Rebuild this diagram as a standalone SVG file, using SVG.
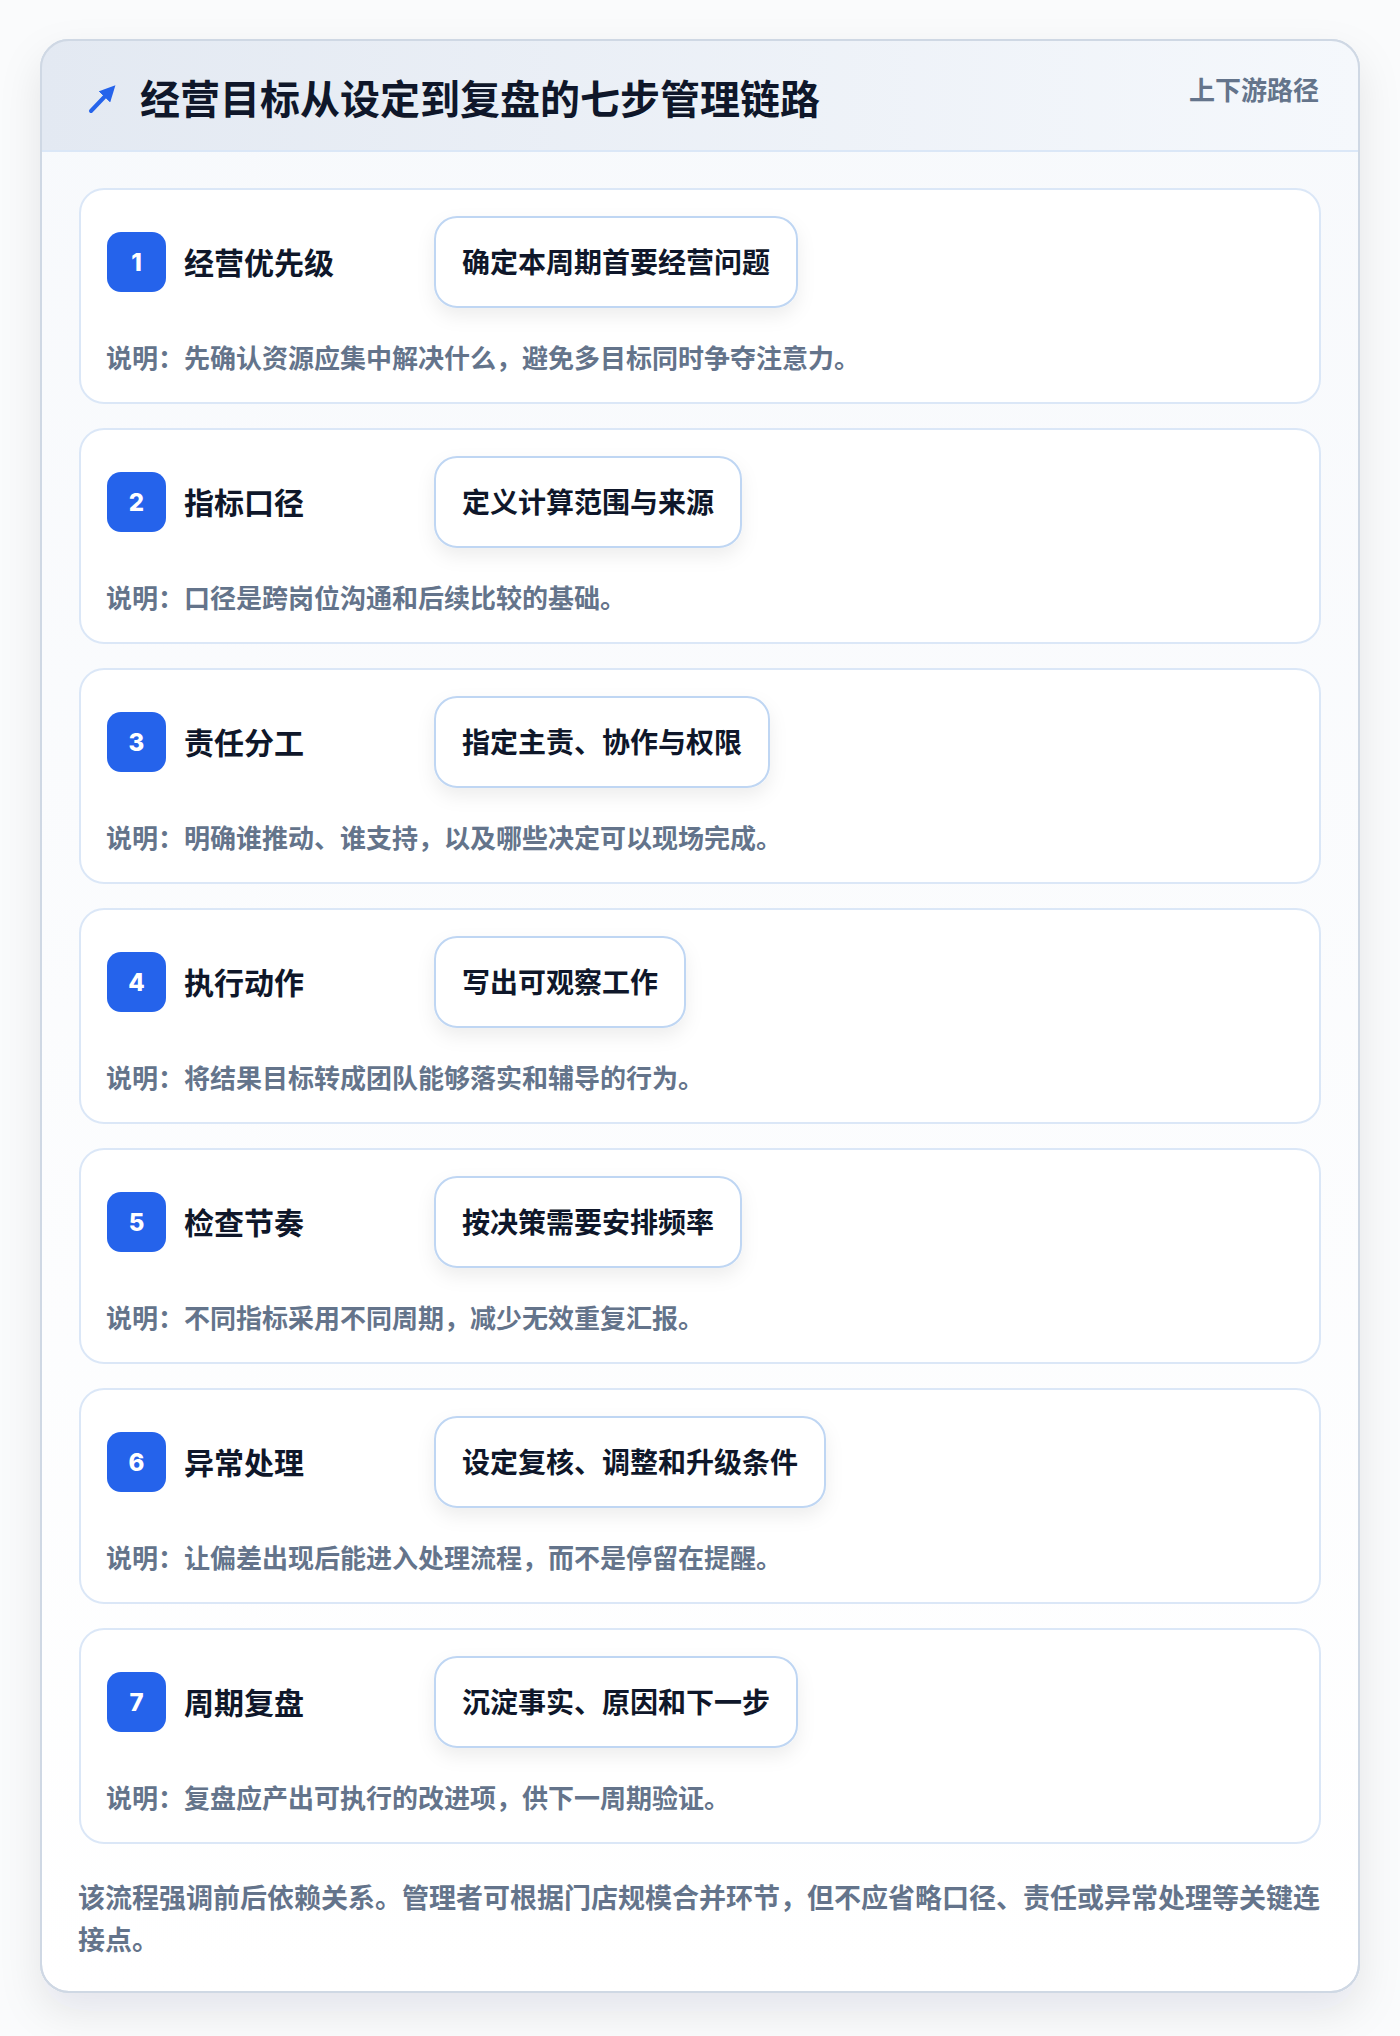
<svg xmlns="http://www.w3.org/2000/svg" width="1400" height="2036" viewBox="0 0 1400 2036">
<defs>
<linearGradient id="hdr" x1="0" y1="0" x2="1" y2="0"><stop offset="0" stop-color="#e3e9f2"/><stop offset="1" stop-color="#f5f8fc"/></linearGradient>
<linearGradient id="body" x1="0" y1="0" x2="0" y2="1"><stop offset="0" stop-color="#f7f9fc"/><stop offset="1" stop-color="#ffffff"/></linearGradient>
<filter id="outerShadow" x="-10%" y="-10%" width="120%" height="120%"><feDropShadow dx="0" dy="18" stdDeviation="20" flood-color="#0f172a" flood-opacity="0.09"/></filter>
<filter id="pillShadow" x="-20%" y="-30%" width="140%" height="180%"><feDropShadow dx="0" dy="8" stdDeviation="9" flood-color="#0f172a" flood-opacity="0.07"/></filter>
<clipPath id="cardClip"><rect x="41" y="40" width="1318" height="1952" rx="28"/></clipPath>
<marker id="ah" viewBox="0 0 10 10" refX="6" refY="5" markerWidth="4" markerHeight="4" orient="auto"><path d="M0,0 L10,5 L0,10 z" fill="#2563eb"/></marker>
</defs>
<style>
text{font-family:"Noto Sans CJK SC","Noto Sans",sans-serif;font-weight:700;dominant-baseline:central}
.title{font-size:40px;fill:#0f172a}
.tag{font-size:26px;fill:#64748b;text-anchor:end}
.card{fill:#ffffff;stroke:#dbe7f7;stroke-width:2}
.badge{fill:#2563eb}
.num{font-family:Inter,"Liberation Sans",sans-serif;font-size:24px;font-weight:800;fill:#ffffff;text-anchor:middle}
.label{font-size:30px;fill:#0f172a}
.pill{fill:#ffffff;stroke:#bfd6f3;stroke-width:2}
.pilltext{font-size:28px;fill:#0f172a}
.desc{font-size:26px;fill:#64748b}
.foot{font-size:27px;fill:#64748b}
</style>
<rect width="1400" height="2036" fill="#fafbfc"/>
<g id="frame">
<rect x="41" y="40" width="1318" height="1952" rx="28" fill="url(#body)" stroke="#cfd8e4" stroke-width="2" filter="url(#outerShadow)"/>
<g clip-path="url(#cardClip)">
<rect x="41" y="40" width="1318" height="111" fill="url(#hdr)"/>
<line x1="41" y1="151" x2="1359" y2="151" stroke="#dbe7f7" stroke-width="2"/>
</g>
<rect x="41" y="40" width="1318" height="1952" rx="28" fill="none" stroke="#cfd8e4" stroke-width="2"/>
</g>
<g id="header">
<path d="M91,111 L111,90" stroke="#2563eb" stroke-width="4" stroke-linecap="round" fill="none" marker-end="url(#ah)"/>
<text class="title" x="140" y="97">经营目标从设定到复盘的七步管理链路</text>
<text class="tag" x="1319" y="88">上下游路径</text>
</g>
<g id="step1" transform="translate(0,0)">
<rect class="card" x="80" y="189" width="1240" height="214" rx="24"/>
<rect class="badge" x="107" y="232" width="59" height="60" rx="14"/>
<text class="num" x="136.5" y="262">1</text>
<text class="label" x="184" y="261">经营优先级</text>
<rect class="pill" x="435" y="217" width="362" height="90" rx="22" filter="url(#pillShadow)"/>
<text class="pilltext" x="462" y="260.5">确定本周期首要经营问题</text>
<text class="desc" x="106" y="356">说明：先确认资源应集中解决什么，避免多目标同时争夺注意力。</text>
</g>
<g id="step2" transform="translate(0,240)">
<rect class="card" x="80" y="189" width="1240" height="214" rx="24"/>
<rect class="badge" x="107" y="232" width="59" height="60" rx="14"/>
<text class="num" x="136.5" y="262">2</text>
<text class="label" x="184" y="261">指标口径</text>
<rect class="pill" x="435" y="217" width="306" height="90" rx="22" filter="url(#pillShadow)"/>
<text class="pilltext" x="462" y="260.5">定义计算范围与来源</text>
<text class="desc" x="106" y="356">说明：口径是跨岗位沟通和后续比较的基础。</text>
</g>
<g id="step3" transform="translate(0,480)">
<rect class="card" x="80" y="189" width="1240" height="214" rx="24"/>
<rect class="badge" x="107" y="232" width="59" height="60" rx="14"/>
<text class="num" x="136.5" y="262">3</text>
<text class="label" x="184" y="261">责任分工</text>
<rect class="pill" x="435" y="217" width="334" height="90" rx="22" filter="url(#pillShadow)"/>
<text class="pilltext" x="462" y="260.5">指定主责、协作与权限</text>
<text class="desc" x="106" y="356">说明：明确谁推动、谁支持，以及哪些决定可以现场完成。</text>
</g>
<g id="step4" transform="translate(0,720)">
<rect class="card" x="80" y="189" width="1240" height="214" rx="24"/>
<rect class="badge" x="107" y="232" width="59" height="60" rx="14"/>
<text class="num" x="136.5" y="262">4</text>
<text class="label" x="184" y="261">执行动作</text>
<rect class="pill" x="435" y="217" width="250" height="90" rx="22" filter="url(#pillShadow)"/>
<text class="pilltext" x="462" y="260.5">写出可观察工作</text>
<text class="desc" x="106" y="356">说明：将结果目标转成团队能够落实和辅导的行为。</text>
</g>
<g id="step5" transform="translate(0,960)">
<rect class="card" x="80" y="189" width="1240" height="214" rx="24"/>
<rect class="badge" x="107" y="232" width="59" height="60" rx="14"/>
<text class="num" x="136.5" y="262">5</text>
<text class="label" x="184" y="261">检查节奏</text>
<rect class="pill" x="435" y="217" width="306" height="90" rx="22" filter="url(#pillShadow)"/>
<text class="pilltext" x="462" y="260.5">按决策需要安排频率</text>
<text class="desc" x="106" y="356">说明：不同指标采用不同周期，减少无效重复汇报。</text>
</g>
<g id="step6" transform="translate(0,1200)">
<rect class="card" x="80" y="189" width="1240" height="214" rx="24"/>
<rect class="badge" x="107" y="232" width="59" height="60" rx="14"/>
<text class="num" x="136.5" y="262">6</text>
<text class="label" x="184" y="261">异常处理</text>
<rect class="pill" x="435" y="217" width="390" height="90" rx="22" filter="url(#pillShadow)"/>
<text class="pilltext" x="462" y="260.5">设定复核、调整和升级条件</text>
<text class="desc" x="106" y="356">说明：让偏差出现后能进入处理流程，而不是停留在提醒。</text>
</g>
<g id="step7" transform="translate(0,1440)">
<rect class="card" x="80" y="189" width="1240" height="214" rx="24"/>
<rect class="badge" x="107" y="232" width="59" height="60" rx="14"/>
<text class="num" x="136.5" y="262">7</text>
<text class="label" x="184" y="261">周期复盘</text>
<rect class="pill" x="435" y="217" width="362" height="90" rx="22" filter="url(#pillShadow)"/>
<text class="pilltext" x="462" y="260.5">沉淀事实、原因和下一步</text>
<text class="desc" x="106" y="356">说明：复盘应产出可执行的改进项，供下一周期验证。</text>
</g>
<g id="connectors"></g>
<g id="footer">
<text class="foot" x="78" y="1896">该流程强调前后依赖关系。管理者可根据门店规模合并环节，但不应省略口径、责任或异常处理等关键连</text>
<text class="foot" x="78" y="1938">接点。</text>
</g>
</svg>
